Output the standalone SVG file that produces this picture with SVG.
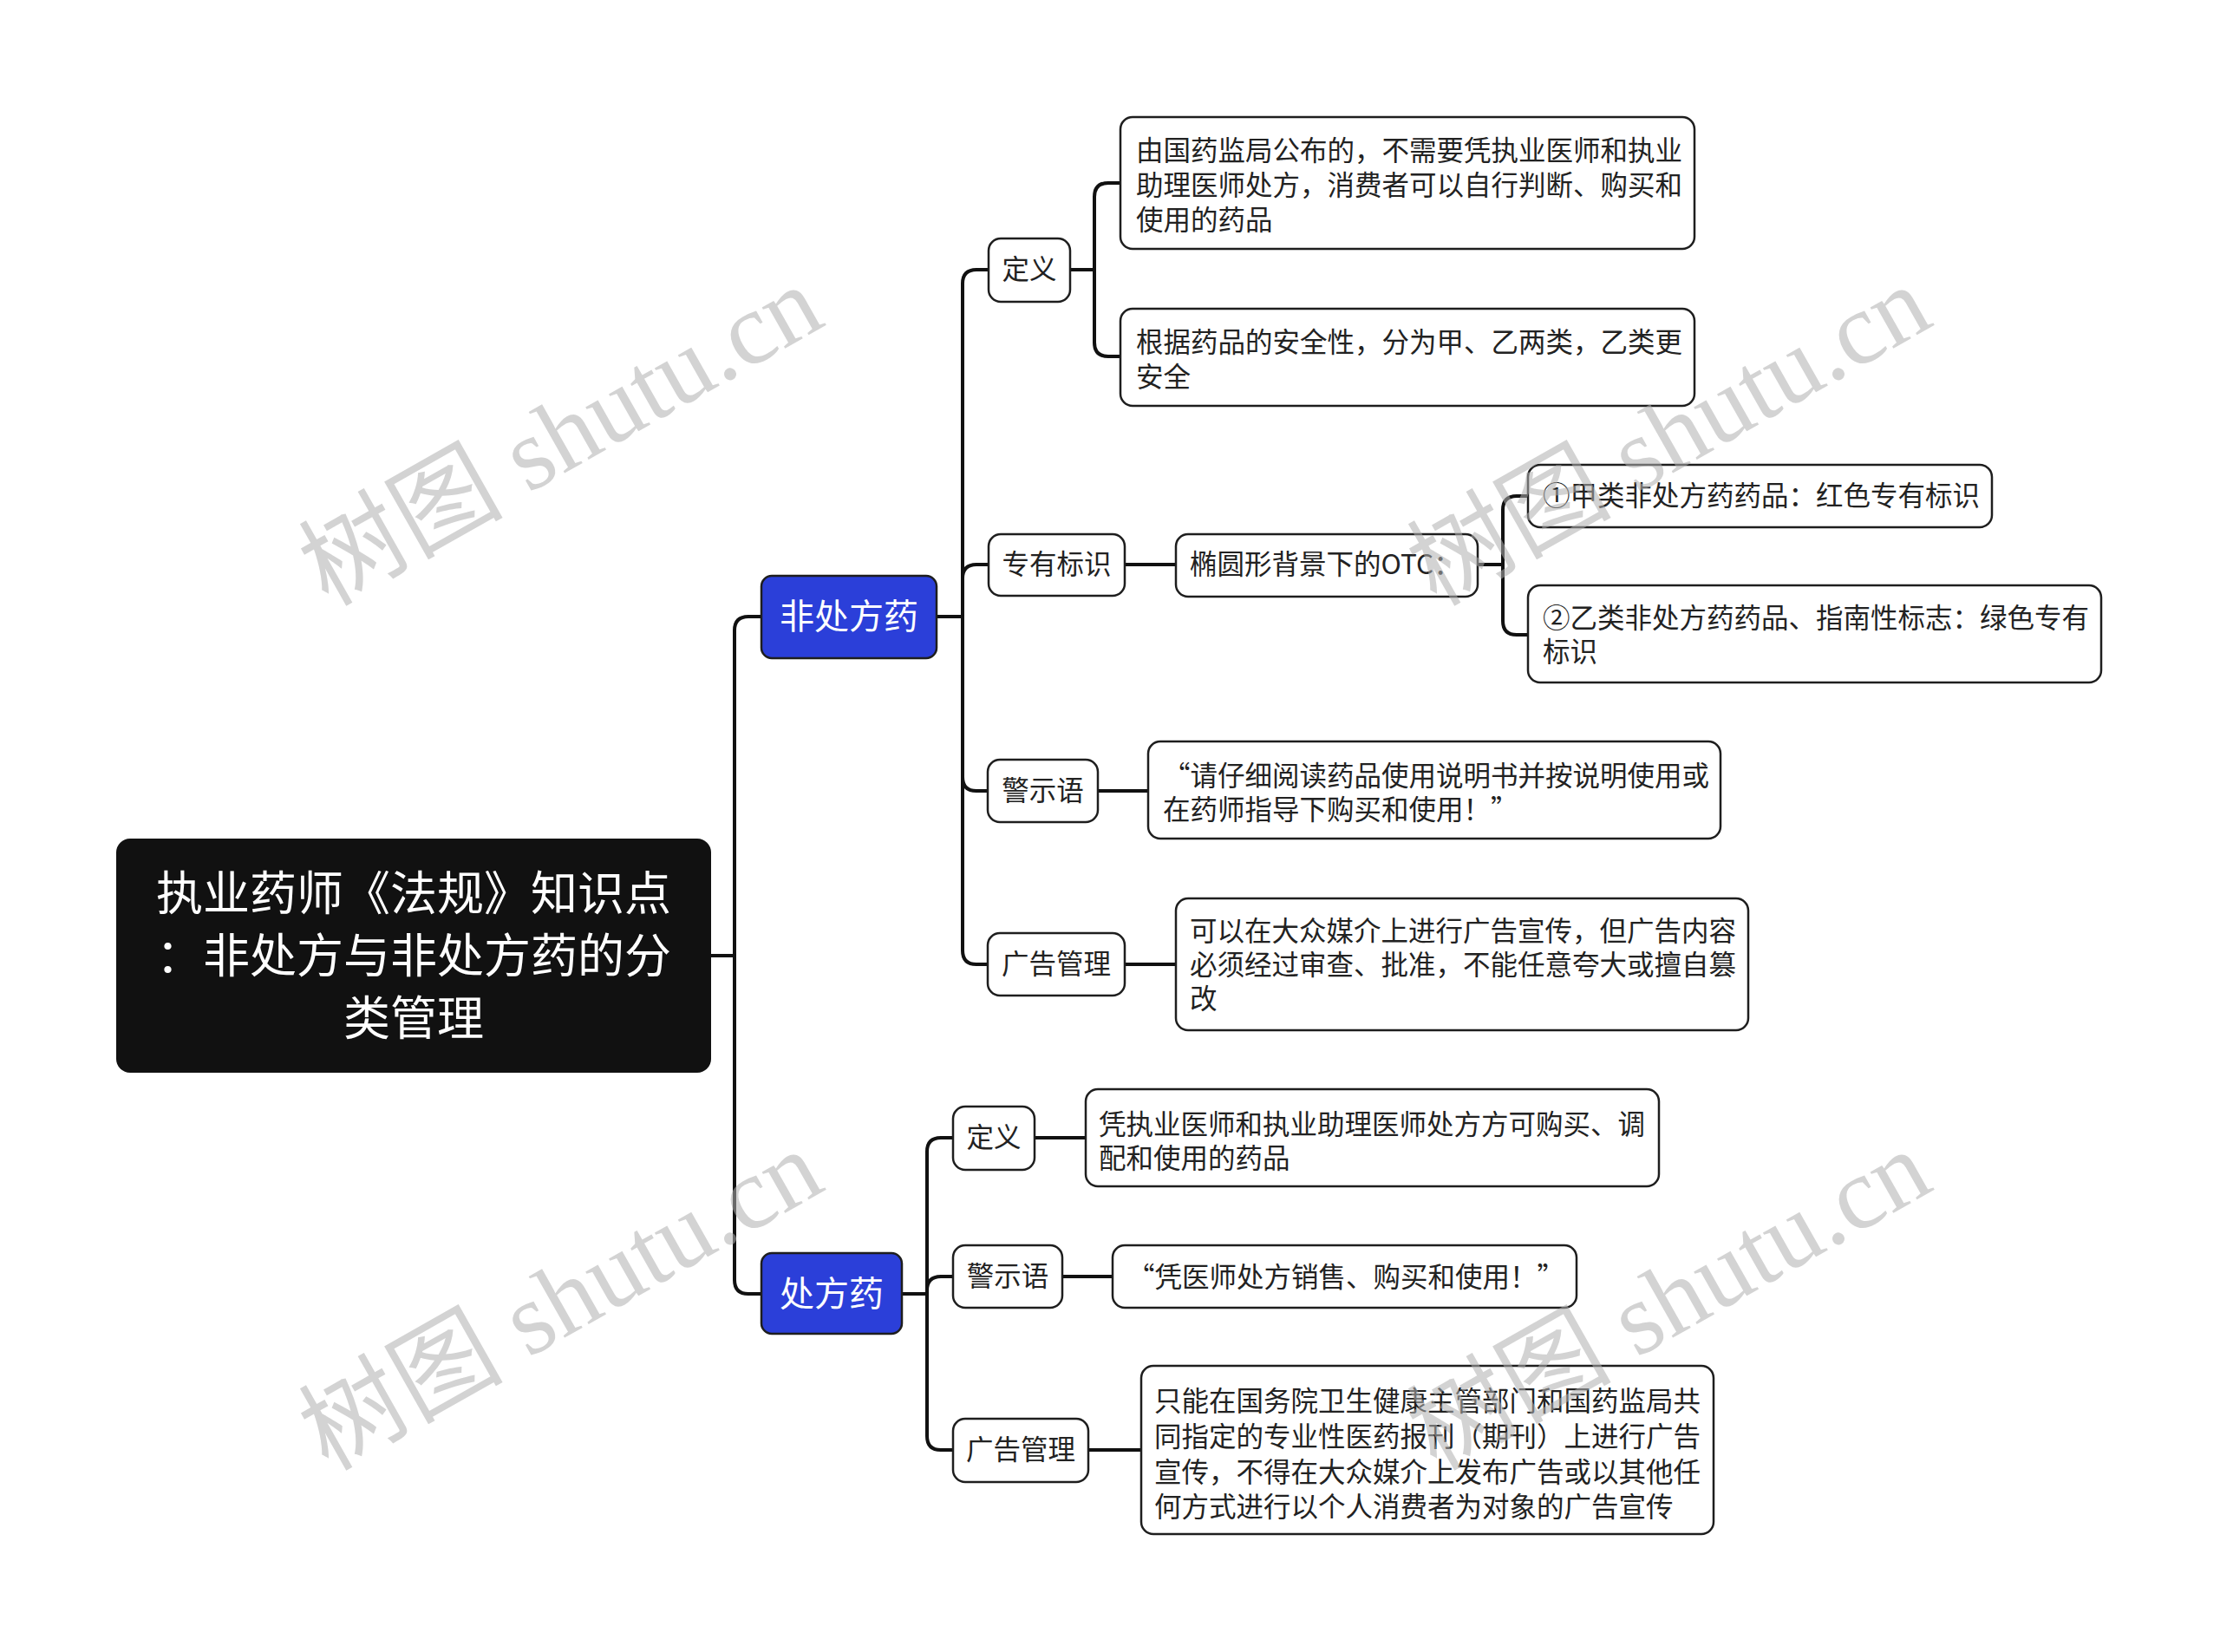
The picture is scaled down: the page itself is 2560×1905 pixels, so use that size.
<svg xmlns="http://www.w3.org/2000/svg" width="2560" height="1905" viewBox="0 0 2560 1905">
<style>
.bg{fill:#ffffff}
.box{fill:#ffffff;stroke:#1e1e1e;stroke-width:2.5}
.blue{fill:#2b3fd9;stroke:#1e1e1e;stroke-width:2.5}
.rootbox{fill:#111111}
.t{font-family:"Noto Sans CJK SC","Liberation Sans",sans-serif;font-size:31.5px;fill:#222222}
.tm{font-family:"Noto Sans CJK SC","Liberation Sans",sans-serif;font-size:31.5px;fill:#222222;text-anchor:middle}
.tb{font-family:"Noto Sans CJK SC","Liberation Sans",sans-serif;font-size:40px;fill:#ffffff;text-anchor:middle}
.tr{font-family:"Noto Sans CJK SC","Liberation Sans",sans-serif;font-size:54px;fill:#ffffff;text-anchor:middle}
.c{fill:none;stroke:#111111;stroke-width:4;stroke-linecap:round;stroke-linejoin:round}
.wm{font-family:"Liberation Serif","Noto Sans CJK SC",serif;font-size:118px;fill:#b0b0b0;opacity:0.55}
</style>
<rect class="bg" x="0" y="0" width="2560" height="1905"/>

<g id="connectors">
<path class="c" d="M820,1102 H847 V727 Q847,711 863,711 H878"/>
<path class="c" d="M847,1102 V1476 Q847,1492 863,1492 H878"/>
<path class="c" d="M1080,711 H1110 V327 Q1110,311 1126,311 H1140"/>
<path class="c" d="M1110,711 V667 Q1110,651 1126,651 H1140"/>
<path class="c" d="M1110,711 V896 Q1110,912 1126,912 H1139"/>
<path class="c" d="M1110,711 V1096 Q1110,1112 1126,1112 H1139"/>
<path class="c" d="M1234,311 H1262 V227 Q1262,211 1278,211 H1292"/>
<path class="c" d="M1262,311 V395 Q1262,411 1278,411 H1292"/>
<path class="c" d="M1297,651 H1356"/>
<path class="c" d="M1704,651 H1733 V588 Q1733,572 1749,572 H1762"/>
<path class="c" d="M1733,651 V716 Q1733,732 1749,732 H1762"/>
<path class="c" d="M1266,912 H1324"/>
<path class="c" d="M1297,1112 H1356"/>
<path class="c" d="M1040,1492 H1069 V1328 Q1069,1312 1085,1312 H1099"/>
<path class="c" d="M1069,1492 V1488 Q1069,1472 1085,1472 H1099"/>
<path class="c" d="M1069,1492 V1656 Q1069,1672 1085,1672 H1099"/>
<path class="c" d="M1193,1312 H1252"/>
<path class="c" d="M1225,1472 H1283"/>
<path class="c" d="M1255,1672 H1316"/>
</g>

<g id="root">
<rect class="rootbox" x="134" y="967" width="686" height="270" rx="16"/>
<text class="tr" x="477" y="1050">执业药师《法规》知识点</text>
<text class="tr" x="477" y="1122">：非处方与非处方药的分</text>
<text class="tr" x="477" y="1194">类管理</text>
</g>

<g id="otc">
<rect class="blue" x="878" y="664" width="202" height="95" rx="12"/>
<text class="tb" x="979" y="725">非处方药</text>
</g>

<g id="rx">
<rect class="blue" x="878" y="1445" width="162" height="93" rx="12"/>
<text class="tb" x="959" y="1506">处方药</text>
</g>

<g id="otc-def">
<rect class="box" x="1140" y="275" width="94" height="73" rx="14"/>
<text class="tm" x="1187" y="322">定义</text>
</g>
<g id="otc-def-1">
<rect class="box" x="1292" y="135" width="662" height="152" rx="14"/>
<text class="t" x="1310" y="185">由国药监局公布的，不需要凭执业医师和执业</text>
<text class="t" x="1310" y="225">助理医师处方，消费者可以自行判断、购买和</text>
<text class="t" x="1310" y="265">使用的药品</text>
</g>
<g id="otc-def-2">
<rect class="box" x="1292" y="356" width="662" height="112" rx="14"/>
<text class="t" x="1310" y="406">根据药品的安全性，分为甲、乙两类，乙类更</text>
<text class="t" x="1310" y="446">安全</text>
</g>

<g id="otc-mark">
<rect class="box" x="1140" y="616" width="157" height="71" rx="14"/>
<text class="tm" x="1218.5" y="662">专有标识</text>
</g>
<g id="otc-mark-1">
<rect class="box" x="1356" y="616" width="348" height="72" rx="14"/>
<text class="t" x="1372" y="662">椭圆形背景下的OTC：</text>
</g>
<g id="otc-mark-a">
<rect class="box" x="1762" y="536" width="535" height="72" rx="14"/>
<text class="t" x="1779" y="583">①甲类非处方药药品：红色专有标识</text>
</g>
<g id="otc-mark-b">
<rect class="box" x="1762" y="675" width="661" height="112" rx="14"/>
<text class="t" x="1779" y="724">②乙类非处方药药品、指南性标志：绿色专有</text>
<text class="t" x="1779" y="763">标识</text>
</g>

<g id="otc-warn">
<rect class="box" x="1139" y="876" width="127" height="72" rx="14"/>
<text class="tm" x="1202.5" y="923">警示语</text>
</g>
<g id="otc-warn-1">
<rect class="box" x="1324" y="855" width="660" height="112" rx="14"/>
<text class="t" x="1341" y="906">“请仔细阅读药品使用说明书并按说明使用或</text>
<text class="t" x="1341" y="945">在药师指导下购买和使用！”</text>
</g>

<g id="otc-ad">
<rect class="box" x="1139" y="1076" width="158" height="72" rx="14"/>
<text class="tm" x="1218" y="1123">广告管理</text>
</g>
<g id="otc-ad-1">
<rect class="box" x="1356" y="1036" width="660" height="152" rx="14"/>
<text class="t" x="1372" y="1085">可以在大众媒介上进行广告宣传，但广告内容</text>
<text class="t" x="1372" y="1124">必须经过审查、批准，不能任意夸大或擅自篡</text>
<text class="t" x="1372" y="1163">改</text>
</g>

<g id="rx-def">
<rect class="box" x="1099" y="1276" width="94" height="73" rx="14"/>
<text class="tm" x="1146" y="1323">定义</text>
</g>
<g id="rx-def-1">
<rect class="box" x="1252" y="1256" width="661" height="112" rx="14"/>
<text class="t" x="1267" y="1308">凭执业医师和执业助理医师处方方可购买、调</text>
<text class="t" x="1267" y="1347">配和使用的药品</text>
</g>

<g id="rx-warn">
<rect class="box" x="1099" y="1436" width="126" height="72" rx="14"/>
<text class="tm" x="1162" y="1483">警示语</text>
</g>
<g id="rx-warn-1">
<rect class="box" x="1283" y="1436" width="535" height="72" rx="14"/>
<text class="t" x="1300" y="1484">“凭医师处方销售、购买和使用！”</text>
</g>

<g id="rx-ad">
<rect class="box" x="1099" y="1636" width="156" height="73" rx="14"/>
<text class="tm" x="1177" y="1683">广告管理</text>
</g>
<g id="rx-ad-1">
<rect class="box" x="1316" y="1575" width="660" height="194" rx="14"/>
<text class="t" x="1331" y="1627">只能在国务院卫生健康主管部门和国药监局共</text>
<text class="t" x="1331" y="1668">同指定的专业性医药报刊（期刊）上进行广告</text>
<text class="t" x="1331" y="1709">宣传，不得在大众媒介上发布广告或以其他任</text>
<text class="t" x="1331" y="1749">何方式进行以个人消费者为对象的广告宣传</text>
</g>

<g id="watermarks">
<text class="wm" transform="translate(378,700) rotate(-29.5)">树图 shutu.cn</text>
<text class="wm" transform="translate(1656,700) rotate(-29.5)">树图 shutu.cn</text>
<text class="wm" transform="translate(378,1697) rotate(-29.5)">树图 shutu.cn</text>
<text class="wm" transform="translate(1656,1697) rotate(-29.5)">树图 shutu.cn</text>
</g>
</svg>
